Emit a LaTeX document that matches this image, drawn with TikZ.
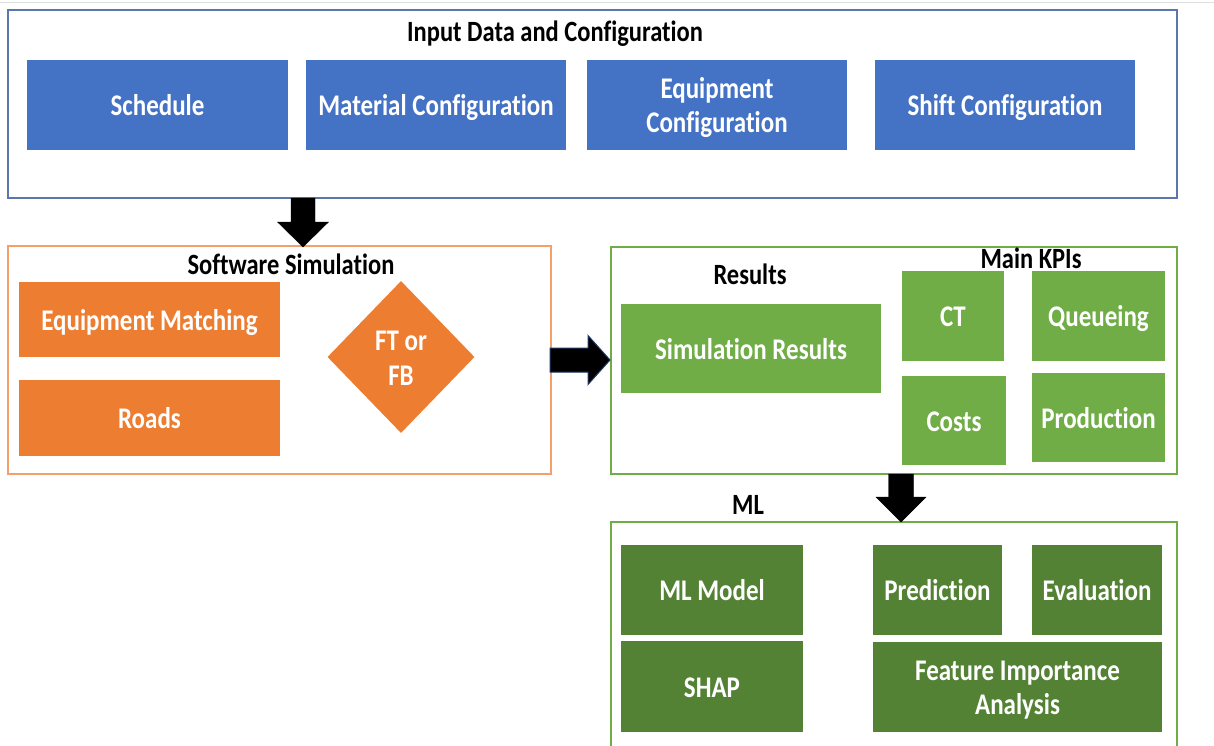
\documentclass[tikz,border=0pt]{standalone}
\usepackage{fontspec}
\usepackage{graphicx}
\setmainfont{Carlito}[Ligatures=NoCommon]
\usetikzlibrary{calc,shapes.geometric}
\definecolor{inblue}{HTML}{4472C4}
\definecolor{inframe}{HTML}{5B75AD}
\definecolor{simorange}{HTML}{ED7D31}
\definecolor{simframe}{HTML}{F4A06A}
\definecolor{resgreen}{HTML}{70AD47}
\definecolor{mlgreen}{HTML}{548235}
\definecolor{arrowedge}{HTML}{1F3864}
% tall, narrow lettering in the style of the slide
\newcommand{\tallText}[1]{\scalebox{1}[1.2]{\begin{tabular}{@{}c@{}}#1\end{tabular}}}
\tikzset{
  frame/.style={draw, line width=1.5pt, fill=white},
  blockbox/.style={rectangle, inner sep=0pt},
  boxtext/.style={inner sep=0pt, text=white, font=\bfseries\fontsize{25}{28}\selectfont},
  heading/.style={inner sep=0pt, font=\bfseries\fontsize{24.5}{28}\selectfont},
  blockarrow/.style={fill=black, draw=black, line width=0.4pt},
}
% filled rectangle given by its corners (in px), with its label
\newcommand{\boxat}[7]{%
  \node[blockbox, fill=#6, minimum width=#4-#2, minimum height=#5-#3]
    (#1) at ({(#2+#4)/2},{(#3+#5)/2}) {};
  \node[boxtext] (#1-label) at ($(#1.center)+(0,4)$) {\tallText{#7}};}
\begin{document}
\begin{tikzpicture}[x=1pt,y=-1pt]
\useasboundingbox (0,0) rectangle (1214,746);
\fill[white] (0,0) rectangle (1214,746);
\draw[black!12, line width=1pt] (0,3) -- (1214,3);

% ---------- input data ----------
\draw[frame, draw=inframe] (8,10) rectangle (1177,198);
\node[heading] (intitle) at (555,35) {\tallText{Input Data and Configuration}};
\boxat{sched}{27}{60}{288}{150}{inblue}{Schedule}
\boxat{mat}{306}{60}{566}{150}{inblue}{Material Configuration}
\boxat{equip}{587}{60}{847}{150}{inblue}{Equipment\\Configuration}
\boxat{shift}{875}{60}{1135}{150}{inblue}{Shift Configuration}

% ---------- software simulation ----------
\draw[frame, draw=simframe] (8,246) rectangle (551,474);
\node[heading] (simtitle) at (291,268) {\tallText{Software Simulation}};
\boxat{match}{19}{282}{280}{357}{simorange}{Equipment Matching}
\boxat{roads}{19}{380}{280}{456}{simorange}{Roads}
\node[diamond, fill=simorange, inner sep=0pt,
  minimum width=147, minimum height=152] (ftfb) at (401,357) {};
\node[boxtext, font=\bfseries\fontsize{25}{29}\selectfont] (ftfb-label)
  at ($(ftfb.center)+(0,4)$) {\tallText{FT or\\FB}};

% ---------- results ----------
\draw[frame, draw=resgreen] (611,247) rectangle (1177,474);
\node[heading] (restitle) at (750,278) {\tallText{Results}};
\node[heading] (kpititle) at (1031,262) {\tallText{Main KPIs}};
\boxat{simres}{621}{304}{881}{393}{resgreen}{Simulation Results}
\boxat{ct}{902}{271}{1004}{361}{resgreen}{CT}
\boxat{queue}{1032}{271}{1165}{361}{resgreen}{Queueing}
\boxat{costs}{902}{376}{1006}{465}{resgreen}{Costs}
\boxat{prod}{1032}{373}{1165}{462}{resgreen}{Production}

% ---------- machine learning ----------
\draw[frame, draw=resgreen] (611,760) -- (611,522) -- (1177,522) -- (1177,760);
\node[heading] (mltitle) at (748,508) {\tallText{ML}};
\boxat{model}{621}{545}{803}{635}{mlgreen}{ML Model}
\boxat{shap}{621}{641}{803}{732}{mlgreen}{SHAP}
\boxat{pred}{873}{545}{1002}{635}{mlgreen}{Prediction}
\boxat{eval}{1032}{545}{1162}{635}{mlgreen}{Evaluation}
\boxat{feat}{873}{642}{1162}{732}{mlgreen}{Feature Importance\\Analysis}

% ---------- block arrows between stages ----------
\coordinate (a1s) at (303,198);
\coordinate (a1t) at (303,247);
\draw[blockarrow] ($(a1s)+(-12,0)$) -- ($(a1s)+(12,0)$) -- ($(a1t)+(12,-25)$)
  -- ($(a1t)+(25.5,-25)$) -- (a1t) -- ($(a1t)+(-25.5,-25)$) -- ($(a1t)+(-12,-25)$) -- cycle;

\coordinate (a2s) at (550,360);
\coordinate (a2t) at (610,360);
\draw[blockarrow, draw=arrowedge, line width=1pt] ($(a2s)+(0,-12)$) -- ($(a2t)+(-22,-12)$)
  -- ($(a2t)+(-22,-24.5)$) -- (a2t) -- ($(a2t)+(-22,24.5)$) -- ($(a2t)+(-22,12)$)
  -- ($(a2s)+(0,12)$) -- cycle;

\coordinate (a3s) at (901,474);
\coordinate (a3t) at (901,522);
\draw[blockarrow] ($(a3s)+(-12.5,0)$) -- ($(a3s)+(12.5,0)$) -- ($(a3t)+(12.5,-25)$)
  -- ($(a3t)+(25,-25)$) -- (a3t) -- ($(a3t)+(-25,-25)$) -- ($(a3t)+(-12.5,-25)$) -- cycle;
\end{tikzpicture}
\end{document}
